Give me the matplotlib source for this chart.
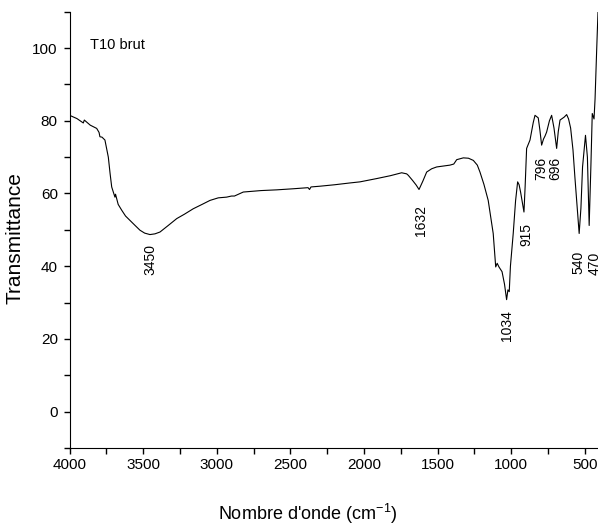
import matplotlib
matplotlib.use("Agg")
import matplotlib.pyplot as plt
from matplotlib.ticker import MultipleLocator

plt.rcParams['font.family'] = ['Liberation Sans', 'DejaVu Sans']
plt.rcParams['mathtext.fontset'] = 'custom'
plt.rcParams['mathtext.rm'] = 'Liberation Sans'

# spectrum (wavenumber in cm-1, transmittance)
wavenumber = [4000, 3950, 3907, 3900, 3860, 3816, 3800, 3794, 3780, 3760, 3737,
              3725, 3714, 3700, 3692, 3688, 3670, 3646, 3620, 3590, 3555, 3522,
              3490, 3454, 3420, 3386, 3330, 3272, 3220, 3160, 3100, 3046, 2990,
              2933, 2900, 2880, 2820, 2700, 2593, 2480, 2380, 2370, 2360, 2300,
              2200, 2095, 2027, 1914, 1820, 1744, 1710, 1699, 1670, 1645, 1626,
              1600, 1574, 1540, 1506, 1416, 1390, 1370, 1325, 1290, 1257, 1230,
              1212, 1185, 1156, 1122, 1105, 1095, 1083, 1062, 1045, 1031, 1022,
              1013, 1005, 986, 970, 956, 946, 936, 913, 905, 895, 872, 850, 838,
              816, 805, 793, 780, 770, 759, 740, 725, 709, 691, 680, 668, 640,
              623, 610, 596, 580, 567, 538, 526, 515, 495, 482, 470, 458, 449,
              437, 430, 419, 410]
transmittance = [81.5, 80.6, 79.4, 80.2, 78.8, 77.9, 76.8, 75.6, 75.5, 74.7, 70.0,
                 65.5, 61.8, 60.0, 59.0, 59.8, 57.0, 55.4, 53.8, 52.6, 51.2, 49.9,
                 49.1, 48.7, 48.9, 49.4, 51.2, 53.1, 54.3, 55.8, 57.0, 58.1, 58.8,
                 59.0, 59.3, 59.3, 60.4, 60.8, 61.0, 61.3, 61.6, 61.1, 61.8, 62.0,
                 62.4, 62.9, 63.2, 64.1, 64.9, 65.7, 65.4, 65.0, 63.6, 62.3, 61.1,
                 63.4, 65.9, 66.8, 67.3, 67.8, 68.1, 69.3, 69.8, 69.7, 69.1, 67.8,
                 65.9, 62.5, 58.1, 49.0, 39.8, 40.8, 39.8, 38.5, 35.0, 30.8, 33.5,
                 33.0, 40.0, 49.0, 58.0, 63.2, 62.4, 60.4, 54.9, 62.0, 72.4, 74.7,
                 79.5, 81.5, 80.8, 77.5, 73.3, 75.0, 75.8, 76.9, 80.0, 81.5, 78.0,
                 72.4, 77.0, 80.2, 81.0, 81.7, 80.5, 78.0, 72.0, 64.5, 49.0, 56.0,
                 67.3, 76.0, 70.0, 51.2, 68.0, 82.0, 80.5, 86.0, 99.5, 110.0]

peak_labels = ["3450", "1632", "1034", "915", "796", "696", "540", "470"]
label_x = [3450, 1615, 1031, 895, 793, 698, 541, 431]
label_y = [46.0, 56.7, 27.8, 51.8, 70.0, 70.0, 44.3, 43.9]

fig = plt.figure(figsize=(5.98, 5.25), dpi=100)
ax = fig.add_axes([0.1164, 0.1467, 0.8836, 0.831])

ax.plot(wavenumber, transmittance, color="black", lw=0.8)

ax.set_xlim(4000, 410)
ax.set_ylim(-10, 110)
ax.xaxis.set_major_locator(MultipleLocator(500))
ax.xaxis.set_minor_locator(MultipleLocator(250))
ax.yaxis.set_major_locator(MultipleLocator(20))
ax.yaxis.set_minor_locator(MultipleLocator(10))
ax.tick_params(which="both", direction="out", length=4.5, width=1, labelsize=11)
ax.tick_params(axis="y", pad=4)
ax.tick_params(axis="x", pad=3)

for side in ["top", "right"]:
    ax.spines[side].set_visible(False)

for txt, x, y in zip(peak_labels, label_x, label_y):
    ax.text(x, y, txt, rotation=90, ha="center", va="top", fontsize=10)

ax.text(3861, 100.8, "T10 brut", ha="left", va="center", fontsize=10.5)

ax.set_ylabel("Transmittance", fontsize=15)
ax.set_xlabel("Nombre d'onde (cm$^{\\mathregular{-1}}$)", fontsize=13)
ax.yaxis.set_label_coords(-0.085, 0.481)
ax.xaxis.set_label_coords(0.450, -0.124)

fig.savefig("out.png", dpi=100)
